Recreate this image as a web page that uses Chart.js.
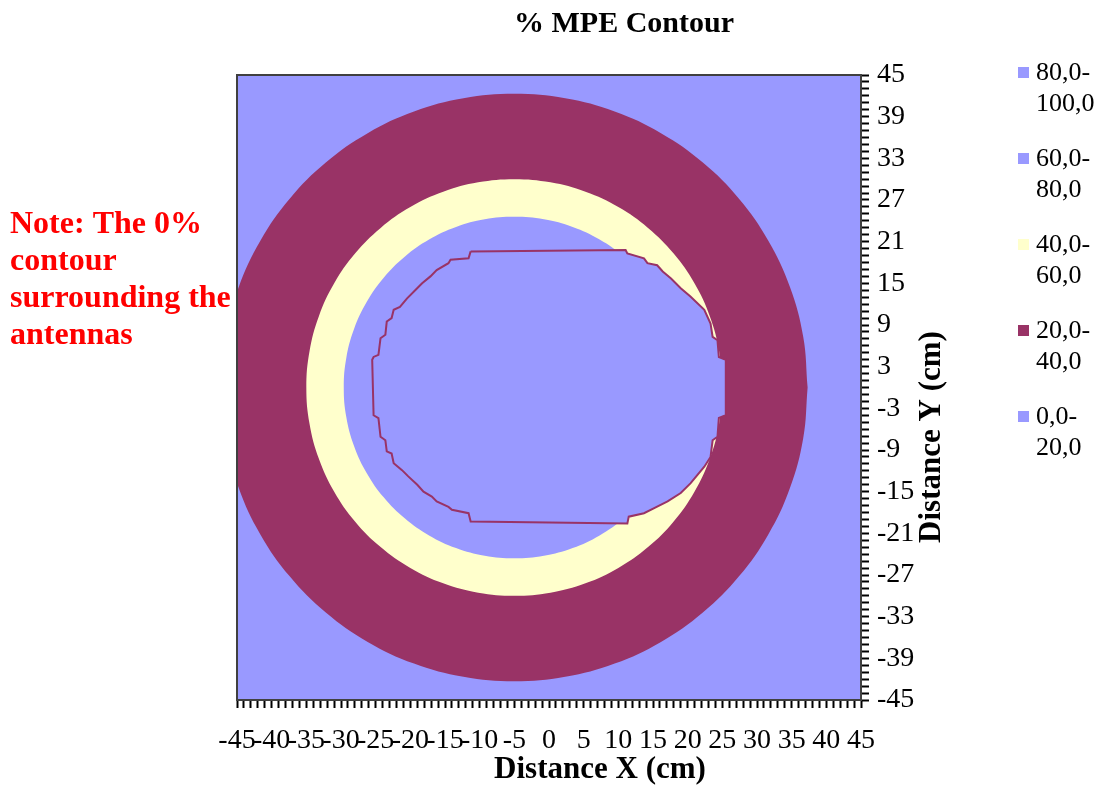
<!DOCTYPE html>
<html>
<head>
<meta charset="utf-8">
<script src="https://cdn.jsdelivr.net/npm/chart.js@4"></script>
<style>
html,body{margin:0;padding:0;background:#fff;}
</style>
</head>
<body>
<canvas id="myContour" width="1100" height="787"></canvas>
<script>
// contour bands (legend order, top to bottom)
const bandLabels = ['80,0-100,0', '60,0-80,0', '40,0-60,0', '20,0-40,0', '0,0-20,0'];
const bandColors = ['#9999FF', '#9999FF', '#FFFFCC', '#993366', '#9999FF'];

// contour edges, [x cm, y cm]
const edge20 = [[37.3,0],[36.66,7.34],[34.75,14.47],[31.63,21.15],[27.4,27.19],[22.19,32.4],[16.15,36.63],[9.47,39.75],[2.34,41.66],[-5,42.3],[-12.34,41.66],[-19.47,39.75],[-26.15,36.63],[-32.19,32.4],[-37.4,27.19],[-41.63,21.15],[-44.75,14.47],[-46.66,7.34],[-47.3,0],[-46.66,-7.34],[-44.75,-14.47],[-41.63,-21.15],[-37.4,-27.19],[-32.19,-32.4],[-26.15,-36.63],[-19.47,-39.75],[-12.34,-41.66],[-5,-42.3],[2.34,-41.66],[9.47,-39.75],[16.15,-36.63],[22.19,-32.4],[27.4,-27.19],[31.63,-21.15],[34.75,-14.47],[36.66,-7.34],[37.3,0]];
const edge40 = [[25,0],[24.54,5.21],[23.19,10.26],[20.98,15],[17.98,19.28],[14.28,22.98],[10,25.98],[5.26,28.19],[0.21,29.54],[-5,30],[-10.21,29.54],[-15.26,28.19],[-20,25.98],[-24.28,22.98],[-27.98,19.28],[-30.98,15],[-33.19,10.26],[-34.54,5.21],[-35,0],[-34.54,-5.21],[-33.19,-10.26],[-30.98,-15],[-27.98,-19.28],[-24.28,-22.98],[-20,-25.98],[-15.26,-28.19],[-10.21,-29.54],[-5,-30],[0.21,-29.54],[5.26,-28.19],[10,-25.98],[14.28,-22.98],[17.98,-19.28],[20.98,-15],[23.19,-10.26],[24.54,-5.21],[25,0]];
const edge60 = [[19.6,0],[19.23,4.27],[18.12,8.41],[16.3,12.3],[13.84,15.81],[10.81,18.84],[7.3,21.3],[3.41,23.12],[-0.73,24.23],[-5,24.6],[-9.27,24.23],[-13.41,23.12],[-17.3,21.3],[-20.81,18.84],[-23.84,15.81],[-26.3,12.3],[-28.12,8.41],[-29.23,4.27],[-29.6,0],[-29.23,-4.27],[-28.12,-8.41],[-26.3,-12.3],[-23.84,-15.81],[-20.81,-18.84],[-17.3,-21.3],[-13.41,-23.12],[-9.27,-24.23],[-5,-24.6],[-0.73,-24.23],[3.41,-23.12],[7.3,-21.3],[10.81,-18.84],[13.84,-15.81],[16.3,-12.3],[18.12,-8.41],[19.23,-4.27],[19.6,0]];
// 0% contour round the antennas
const edge0 = [[-11.3,19.6],[11.05,19.8],[11.3,19.3],[13.7,18.6],[14.2,17.9],[15.6,17.6],[16.4,16.7],[17.6,15.7],[19.0,14.3],[20.4,13.1],[22.4,11.2],[23.3,9.2],[23.6,7.3],[24.3,6.8],[24.5,4.4],[25.5,4.0],[25.5,-4.0],[24.5,-4.4],[24.3,-7.1],[23.6,-7.6],[23.3,-10.0],[22.4,-11.4],[20.4,-13.8],[19.0,-15.2],[17.1,-16.4],[15.1,-17.4],[13.7,-18.1],[11.5,-18.6],[11.3,-19.6],[-11.3,-19.3],[-11.6,-18.1],[-14.0,-17.6],[-14.5,-17.2],[-16.2,-16.4],[-16.9,-15.7],[-18.1,-15.0],[-19.0,-14.0],[-20.3,-12.8],[-21.2,-11.9],[-22.4,-10.9],[-22.7,-9.5],[-23.4,-9.2],[-23.6,-7.6],[-24.3,-7.1],[-24.6,-4.4],[-25.3,-4.0],[-25.5,4.0],[-25.3,4.4],[-24.6,4.7],[-24.3,7.1],[-23.6,7.6],[-23.4,9.5],[-22.7,10.0],[-22.4,11.2],[-21.5,11.6],[-20.5,12.8],[-19.3,14.0],[-18.3,15.0],[-17.1,16.0],[-16.2,16.9],[-14.5,17.9],[-14.2,18.4],[-11.6,18.6],[-11.3,19.6]];

const axisMin = -45, axisMax = 45;
const noteLines = ['Note: The 0%', 'contour', 'surrounding the', 'antennas'];

const serif = '"Liberation Serif", "Times New Roman", serif';
const toXY = pts => pts.map(p => ({x: p[0], y: p[1]}));

const extras = {
  id: 'extras',
  beforeDatasetsDraw(chart) {
    const {ctx, chartArea: c} = chart;
    ctx.save();
    ctx.fillStyle = bandColors[4];
    ctx.fillRect(c.left, c.top, c.right - c.left, c.bottom - c.top);
    ctx.restore();
  },
  afterDraw(chart) {
    const {ctx, chartArea: c} = chart;
    ctx.save();
    ctx.strokeStyle = '#404040';
    ctx.lineWidth = 2;
    ctx.strokeRect(c.left, c.top, c.right - c.left, c.bottom - c.top);

    ctx.fillStyle = '#000';
    ctx.textBaseline = 'middle';
    ctx.textAlign = 'center';
    ctx.font = 'bold 30px ' + serif;
    ctx.fillText('% MPE Contour', 624, 24);
    ctx.font = 'bold 31px ' + serif;
    ctx.fillText('Distance X (cm)', 600, 770);
    ctx.save();
    ctx.translate(932, 437);
    ctx.rotate(-Math.PI / 2);
    ctx.fillText('Distance Y (cm)', 0, 0);
    ctx.restore();

    // legend
    ctx.textAlign = 'left';
    ctx.font = '26px ' + serif;
    bandLabels.forEach((lab, i) => {
      const y = 73 + i * 86;
      const cut = lab.indexOf('-') + 1;
      ctx.fillStyle = bandColors[i];
      ctx.fillRect(1018, y - 6, 11, 11);
      ctx.fillStyle = '#000';
      ctx.fillText(lab.slice(0, cut), 1036, y);
      ctx.fillText(lab.slice(cut), 1036, y + 31);
    });

    // note
    ctx.fillStyle = '#FF0000';
    ctx.font = 'bold 32px ' + serif;
    noteLines.forEach((t, i) => ctx.fillText(t, 10, 225 + i * 37));
    ctx.restore();
  }
};

const tickFont = {family: serif, size: 28};

new Chart(document.getElementById('myContour'), {
  type: 'line',
  data: {
    datasets: [
      {label: bandLabels[3], data: toXY(edge20), backgroundColor: bandColors[3], borderWidth: 0, tension: 0.4, fill: 'shape', order: 4},
      {label: bandLabels[2], data: toXY(edge40), backgroundColor: bandColors[2], borderWidth: 0, tension: 0.4, fill: 'shape', order: 3},
      {label: bandLabels[4], data: toXY(edge60), backgroundColor: bandColors[4], borderWidth: 0, tension: 0.4, fill: 'shape', order: 2},
      {label: '0%', data: toXY(edge0), backgroundColor: bandColors[4], borderColor: bandColors[3], borderWidth: 2, tension: 0, fill: 'shape', order: 1}
    ]
  },
  options: {
    responsive: false,
    animation: false,
    events: [],
    layout: {padding: {left: 237, top: 75, right: 139, bottom: 0}},
    elements: {point: {radius: 0}, line: {capBezierPoints: false}},
    plugins: {
      legend: {display: false},
      title: {display: false},
      tooltip: {enabled: false},
      filler: {drawTime: 'beforeDatasetDraw'}
    },
    scales: {
      x: {
        type: 'linear', position: 'bottom', min: axisMin, max: axisMax,
        afterFit: s => { s.height = 87; },
        grid: {drawOnChartArea: false, drawTicks: true, tickLength: 8, tickColor: '#000', tickWidth: 2},
        border: {display: true, color: '#404040', width: 2},
        ticks: {
          stepSize: 1, maxTicksLimit: 200, autoSkip: false, maxRotation: 0, minRotation: 0,
          padding: 16, color: '#000', font: tickFont,
          callback: v => (v % 5 === 0 ? String(v) : '')
        }
      },
      y: {
        type: 'linear', position: 'right', min: axisMin, max: axisMax,
        afterFit: s => { s.width = 100; },
        grid: {drawOnChartArea: false, drawTicks: true, tickLength: 8, tickColor: '#000', tickWidth: 2},
        border: {display: true, color: '#404040', width: 2},
        ticks: {
          stepSize: 1, maxTicksLimit: 200, autoSkip: false,
          padding: 8, color: '#000', font: tickFont,
          callback: v => ((v - axisMin) % 6 === 0 ? String(v) : '')
        }
      }
    }
  },
  plugins: [extras]
});
</script>
</body>
</html>
